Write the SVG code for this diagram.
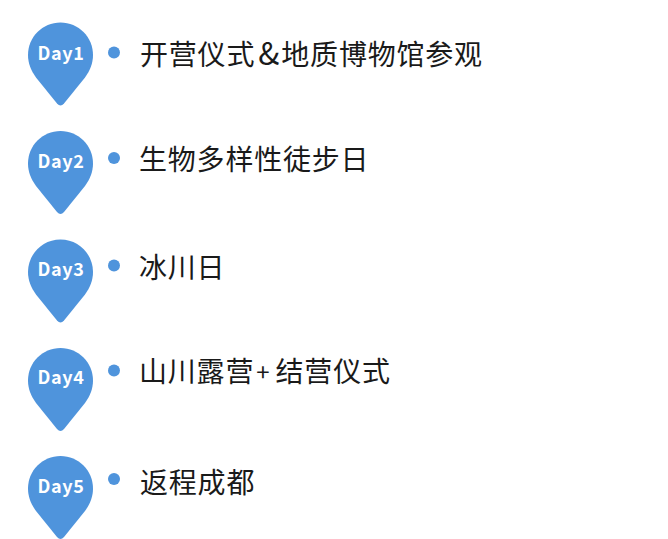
<svg xmlns="http://www.w3.org/2000/svg" width="668" height="539" viewBox="0 0 668 539">
<style>
.pin{fill:#4f94dc}
.d{font:700 18px "Noto Sans CJK SC","Noto Sans",sans-serif;fill:#fff;text-anchor:middle;letter-spacing:.6px}
.t{font:400 28px "Noto Sans CJK SC",sans-serif;fill:#1a1a1a;letter-spacing:.8px}
</style>
<defs><path id="p" d="M60.500 0C42.500 0 28 14.500 28 32.500C28 41 31 48 36 55L57 81Q60.500 85 64 81L85 55C90 48 93 41 93 32.500C93 14.500 78.500 0 60.500 0Z"/></defs>
<rect width="668" height="539" fill="#fff"/>
<g id="n1"><use href="#p" class="pin" y="22.500"/><text class="d" x="61" y="60">Day1</text><circle class="pin" cx="114" cy="52.500" r="6"/><text class="t" x="140" y="64.500">开营仪式<tspan dx="3" font-size="31" letter-spacing="2">&amp;</tspan>地质博物馆参观</text></g>
<g id="n2"><use href="#p" class="pin" y="131"/><text class="d" x="61" y="168">Day2</text><circle class="pin" cx="114" cy="158" r="6"/><text class="t" x="139" y="170">生物多样性徒步日</text></g>
<g id="n3"><use href="#p" class="pin" y="239.500"/><text class="d" x="61" y="276">Day3</text><circle class="pin" cx="114" cy="265.500" r="6"/><text class="t" x="139" y="278">冰川日</text></g>
<g id="n4"><use href="#p" class="pin" y="348"/><text class="d" x="61" y="384">Day4</text><circle class="pin" cx="114" cy="370.500" r="6"/><text class="t" x="139" y="382">山川露营<tspan dx="2" font-size="24" letter-spacing="6" dy="-1">+</tspan><tspan dy="1">结营仪式</tspan></text></g>
<g id="n5"><use href="#p" class="pin" y="456"/><text class="d" x="61" y="493">Day5</text><circle class="pin" cx="114" cy="479" r="6"/><text class="t" x="140" y="493">返程成都</text></g>
<g id="connectors"/>
</svg>
